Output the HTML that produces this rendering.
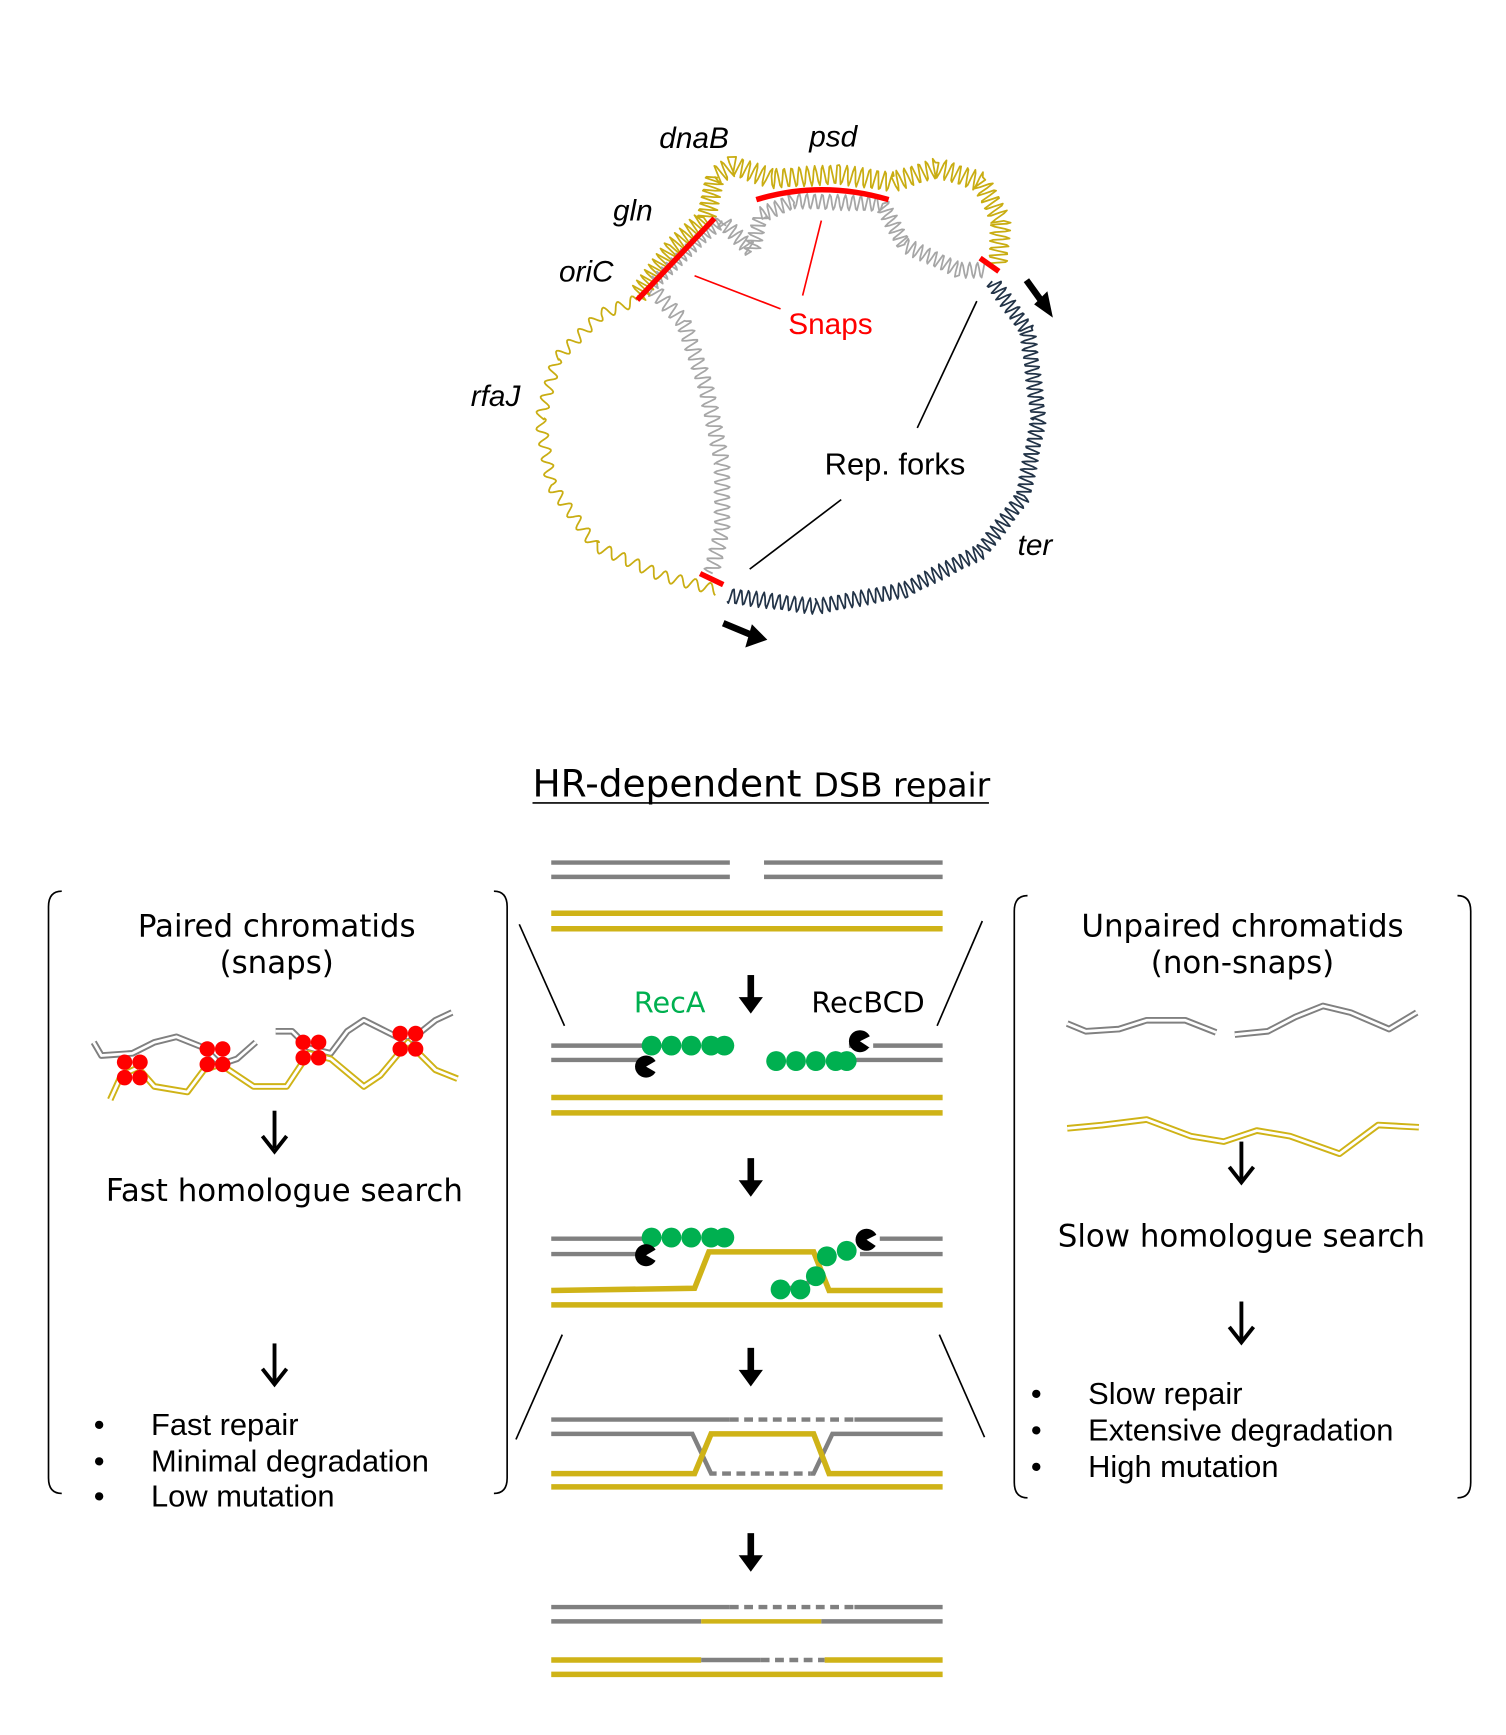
<!DOCTYPE html>
<html><head><meta charset="utf-8"><style>
html,body{margin:0;padding:0;background:#fff}
svg{display:block}
text{font-family:"Liberation Sans",sans-serif}
.c{font-family:"DejaVu Sans","Liberation Sans",sans-serif}
</style></head><body>
<svg id="s" width="1506" height="1735" viewBox="0 0 1366 1573" preserveAspectRatio="none" xmlns="http://www.w3.org/2000/svg">
<g id="chrom"></g>
<g font-size="27" font-style="italic">
<text x="598" y="134">dnaB</text>
<text x="734" y="133">psd</text>
<text x="556" y="200">gln</text>
<text x="507" y="255">oriC</text>
<text x="427" y="368">rfaJ</text>
<text x="923" y="503">ter</text>
</g>
<g>
<line x1="630" y1="250" x2="708" y2="280" stroke="#f00" stroke-width="1.5"/>
<line x1="745" y1="200" x2="728" y2="268" stroke="#f00" stroke-width="1.5"/>
<text x="715" y="303" font-size="27" fill="#f00">Snaps</text>
</g>
<g>
<line x1="886" y1="273" x2="832" y2="388" stroke="#000" stroke-width="1.5"/>
<line x1="763" y1="453" x2="680" y2="516" stroke="#000" stroke-width="1.5"/>
<text x="748" y="430" font-size="28">Rep. forks</text>
<line x1="931" y1="254" x2="944" y2="272" stroke="#000" stroke-width="6"/>
<polygon points="955,288 938,276 950,264" fill="#000"/>
<line x1="656" y1="565" x2="680" y2="575" stroke="#000" stroke-width="6"/>
<polygon points="696,580 676,587 682,566" fill="#000"/>
</g>

<text x="483" y="722" font-size="34" class="c">HR-dependent <tspan font-size="30">DSB repair</tspan></text>
<line x1="483" y1="728" x2="897" y2="728" stroke="#000" stroke-width="1.5"/>

<g>
<g>
<line x1="500" y1="782" x2="662" y2="782" stroke="#808080" stroke-width="4"/>
<line x1="500" y1="795" x2="662" y2="795" stroke="#808080" stroke-width="4"/>
<line x1="693" y1="782" x2="855" y2="782" stroke="#808080" stroke-width="4"/>
<line x1="693" y1="795" x2="855" y2="795" stroke="#808080" stroke-width="4"/>
<line x1="500" y1="828" x2="855" y2="828" stroke="#cfb317" stroke-width="5"/>
<line x1="500" y1="842" x2="855" y2="842" stroke="#cfb317" stroke-width="5"/>
</g>
<g>
<text x="575" y="918" font-size="26" fill="#00b050" class="c">RecA</text>
<text x="736" y="918" font-size="26" class="c">RecBCD</text>
<line x1="500" y1="948" x2="600" y2="948" stroke="#808080" stroke-width="4"/>
<line x1="500" y1="961" x2="585" y2="961" stroke="#808080" stroke-width="4"/>
<line x1="770" y1="948" x2="855" y2="948" stroke="#808080" stroke-width="4"/>
<line x1="760" y1="961" x2="855" y2="961" stroke="#808080" stroke-width="4"/>
<g fill="#00b050"><circle cx="591" cy="948" r="9"/><circle cx="609" cy="948" r="9"/><circle cx="627" cy="948" r="9"/><circle cx="645" cy="948" r="9"/><circle cx="657" cy="948" r="9"/>
<circle cx="704" cy="962" r="9"/><circle cx="722" cy="962" r="9"/><circle cx="740" cy="962" r="9"/><circle cx="758" cy="962" r="9"/><circle cx="768" cy="962" r="9"/></g>
<circle cx="586" cy="967" r="10" fill="#000"/><path d="M586,967 L598,960 L598,974 Z" fill="#fff"/>
<circle cx="780" cy="944" r="10" fill="#000"/><path d="M780,944 L792,938 L792,952 Z" fill="#fff"/>
<line x1="500" y1="995" x2="855" y2="995" stroke="#cfb317" stroke-width="5"/>
<line x1="500" y1="1009" x2="855" y2="1009" stroke="#cfb317" stroke-width="5"/>
</g>
<g>
<line x1="500" y1="1123" x2="590" y2="1123" stroke="#808080" stroke-width="4"/>
<line x1="500" y1="1137" x2="585" y2="1137" stroke="#808080" stroke-width="4"/>
<line x1="790" y1="1123" x2="855" y2="1123" stroke="#808080" stroke-width="4"/>
<line x1="780" y1="1137" x2="855" y2="1137" stroke="#808080" stroke-width="4"/>
<polyline points="500,1170 630,1168 643,1135 738,1135 752,1170 855,1170" fill="none" stroke="#cfb317" stroke-width="5"/>
<line x1="500" y1="1183" x2="855" y2="1183" stroke="#cfb317" stroke-width="5"/>
<line x1="710" y1="1170" x2="742" y2="1160" stroke="#808080" stroke-width="4"/>
<g fill="#00b050"><circle cx="591" cy="1122" r="9"/><circle cx="609" cy="1122" r="9"/><circle cx="627" cy="1122" r="9"/><circle cx="645" cy="1122" r="9"/><circle cx="657" cy="1122" r="9"/>
<circle cx="750" cy="1139" r="9"/><circle cx="768" cy="1134" r="9"/><circle cx="740" cy="1157" r="9"/><circle cx="726" cy="1169" r="9"/><circle cx="708" cy="1169" r="9"/></g>
<circle cx="586" cy="1138" r="10" fill="#000"/><path d="M586,1138 L598,1131 L598,1145 Z" fill="#fff"/>
<circle cx="786" cy="1124" r="10" fill="#000"/><path d="M786,1124 L798,1118 L798,1132 Z" fill="#fff"/>
</g>
<g>
<line x1="500" y1="1287" x2="662" y2="1287" stroke="#808080" stroke-width="4"/>
<line x1="662" y1="1287" x2="775" y2="1287" stroke="#808080" stroke-width="4" stroke-dasharray="8,5"/>
<line x1="775" y1="1287" x2="855" y2="1287" stroke="#808080" stroke-width="4"/>
<polyline points="500,1300 628,1300 645,1336 738,1336 755,1300 855,1300" fill="none" stroke="#808080" stroke-width="4"/>
<line x1="650" y1="1336" x2="735" y2="1336" stroke="#fff" stroke-width="5"/>
<line x1="655" y1="1336" x2="735" y2="1336" stroke="#808080" stroke-width="4" stroke-dasharray="8,5"/>
<polyline points="500,1336 630,1336 645,1300 738,1300 752,1336 855,1336" fill="none" stroke="#cfb317" stroke-width="5"/>
<line x1="500" y1="1348" x2="855" y2="1348" stroke="#cfb317" stroke-width="5"/>
</g>
<g>
<line x1="500" y1="1457" x2="662" y2="1457" stroke="#808080" stroke-width="4"/>
<line x1="662" y1="1457" x2="775" y2="1457" stroke="#808080" stroke-width="4" stroke-dasharray="8,5"/>
<line x1="775" y1="1457" x2="855" y2="1457" stroke="#808080" stroke-width="4"/>
<line x1="500" y1="1470" x2="636" y2="1470" stroke="#808080" stroke-width="4"/>
<line x1="636" y1="1470" x2="745" y2="1470" stroke="#cfb317" stroke-width="4"/>
<line x1="745" y1="1470" x2="855" y2="1470" stroke="#808080" stroke-width="4"/>
<line x1="500" y1="1505" x2="636" y2="1505" stroke="#cfb317" stroke-width="5"/>
<line x1="636" y1="1505" x2="690" y2="1505" stroke="#808080" stroke-width="4"/>
<line x1="690" y1="1505" x2="748" y2="1505" stroke="#808080" stroke-width="4" stroke-dasharray="8,5"/>
<line x1="748" y1="1505" x2="855" y2="1505" stroke="#cfb317" stroke-width="5"/>
<line x1="500" y1="1518" x2="855" y2="1518" stroke="#cfb317" stroke-width="5"/>
</g>
</g>
<g id="arrows"></g>

<g stroke="#000" stroke-width="1.5">
<line x1="471" y1="838" x2="512" y2="930"/>
<line x1="891" y1="835" x2="850" y2="930"/>
<line x1="510" y1="1210" x2="468" y2="1305"/>
<line x1="852" y1="1210" x2="893" y2="1303"/>
</g>

<g>
<path d="M56,808 Q44,808 44,822 L44,1340 Q44,1354 56,1354" fill="none" stroke="#000" stroke-width="1.5"/>
<path d="M448,808 Q460,808 460,822 L460,1340 Q460,1354 448,1354" fill="none" stroke="#000" stroke-width="1.5"/>
<text x="251" y="849" font-size="28" text-anchor="middle" class="c">Paired chromatids</text>
<text x="251" y="882" font-size="28" text-anchor="middle" class="c">(snaps)</text>
<g id="paired"></g>
<text x="258" y="1089" font-size="28" text-anchor="middle" class="c">Fast homologue search</text>
<g font-size="28" class="c">
<text x="85" y="1301">•</text><text x="137" y="1301">Fast repair</text>
<text x="85" y="1334">•</text><text x="137" y="1334">Minimal degradation</text>
<text x="85" y="1366">•</text><text x="137" y="1366">Low mutation</text>
</g>
</g>
<g>
<path d="M932,812 Q920,812 920,826 L920,1344 Q920,1358 932,1358" fill="none" stroke="#000" stroke-width="1.5"/>
<path d="M1322,812 Q1334,812 1334,826 L1334,1344 Q1334,1358 1322,1358" fill="none" stroke="#000" stroke-width="1.5"/>
<text x="1127" y="849" font-size="28" text-anchor="middle" class="c">Unpaired chromatids</text>
<text x="1127" y="882" font-size="28" text-anchor="middle" class="c">(non-snaps)</text>
<g id="unpaired"></g>
<text x="1126" y="1130" font-size="28" text-anchor="middle" class="c">Slow homologue search</text>
<g font-size="28" class="c">
<text x="935" y="1273">•</text><text x="987" y="1273">Slow repair</text>
<text x="935" y="1306">•</text><text x="987" y="1306">Extensive degradation</text>
<text x="935" y="1339">•</text><text x="987" y="1339">High mutation</text>
</g>
</g>
</svg>
<script>
const NS='http://www.w3.org/2000/svg';
function mk(parent,tag,attrs){const e=document.createElementNS(NS,tag);for(const k in attrs)e.setAttribute(k,attrs[k]);parent.appendChild(e);return e;}
function wiggle(pts,amp,wl){
  let segs=[];
  for(let i=1;i<pts.length;i++){const dx=pts[i][0]-pts[i-1][0],dy=pts[i][1]-pts[i-1][1];const l=Math.hypot(dx,dy);segs.push([pts[i-1],dx,dy,l]);}
  let d='',s=0;
  for(const [p,dx,dy,l] of segs){const nx=-dy/l,ny=dx/l;for(let t=0;t<l;t+=1.2){const a=amp*Math.sin(2*Math.PI*(s+t)/wl);const x=p[0]+dx*t/l+nx*a,y=p[1]+dy*t/l+ny*a;d+=(d?'L':'M')+x.toFixed(1)+','+y.toFixed(1);}s+=l;}
  return d;
}
const ch=document.getElementById('chrom');
function wl(pts,amp,w,col,name){
  const p=mk(ch,'path',{d:wiggle(pts,amp,w),fill:'none',stroke:col,'stroke-width':1.6,'stroke-linejoin':'round'});
  
  
}
const Y='#c9ad12',G='#a6a6a6',N='#223347';
wl([[578,272],[545,285],[505,325],[490,380],[500,440],[540,495],[600,522],[650,535]],5,14,Y,'yellow-strand-left');
wl([[592,262],[620,292],[640,350],[655,420],[655,480],[645,520]],7,9,G,'gray-strand-left');
wl([[578,268],[610,225],[640,198],[648,160]],9,6,Y,'yellow-strand-oric');
wl([[592,258],[640,212],[655,200]],6,6,G,'gray-strand-oric');
wl([[648,160],[665,150],[700,162],[760,158],[810,165],[850,152],[890,165],[908,200],[905,240]],9,7,Y,'yellow-strand-top');
wl([[655,200],[682,228],[690,195],[720,182],[800,185],[820,222],[870,245],[895,245]],7,7,G,'gray-strand-top');
wl([[900,255],[932,300],[942,380],[928,450],[890,500],[820,535],[740,550],[660,540]],7,7,N,'navy-strand-right');
function red(d,name){const p=mk(ch,'path',{d:d,fill:'none',stroke:'#f00','stroke-width':5});}
red('M578,272 L648,198','snap-oric-gln');
red('M686,181 Q745,163 806,181','snap-psd');
red('M889,234 L906,246','snap-fork-right');
red('M635,520 L656,530','snap-fork-left');
const ar=document.getElementById('arrows');
[[681,884,1],[681,1050,1],[681,1222,1],[681,1390,1],[249,1007,0],[249,1218,0],[1126,1035,0],[1126,1180,0]].forEach(a=>{
  const x=a[0],y=a[1];
  const g=mk(ar,'g',{});
  
  
  if(a[2]){
    mk(g,'line',{x1:x,y1:y,x2:x,y2:y+22,stroke:'#000','stroke-width':6});
    mk(g,'polygon',{points:`${x-11},${y+20} ${x+11},${y+20} ${x},${y+35}`,fill:'#000'});
  } else {
    mk(g,'line',{x1:x,y1:y,x2:x,y2:y+34,stroke:'#000','stroke-width':3.5});
    mk(g,'path',{d:`M${x-11},${y+23} L${x},${y+37} L${x+11},${y+23}`,fill:'none',stroke:'#000','stroke-width':3.5});
  }
});
function dbl(parent,pts,col){
  const d='M'+pts.map(p=>p.join(',')).join(' L');
  mk(parent,'path',{d:d,fill:'none',stroke:col,'stroke-width':6,'stroke-linejoin':'round'});
  mk(parent,'path',{d:d,fill:'none',stroke:'#fff','stroke-width':2.5,'stroke-linejoin':'round'});
}
const pa=document.getElementById('paired');
dbl(pa,[[85,945],[92,957],[120,955],[140,945],[160,940],[185,950],[200,965],[215,960],[232,945]],'#808080');
dbl(pa,[[250,935],[265,935],[280,950],[300,955],[315,935],[330,925],[350,935],[370,945],[395,925],[410,918]],'#808080');
dbl(pa,[[100,997],[110,975],[125,968],[140,985],[170,990],[185,970],[200,965],[230,985],[260,985],[280,955],[300,960],[330,985],[345,975],[370,945],[395,970],[415,978]],'#cfb317');
[[120,970],[195,958],[282,952],[370,944]].forEach(c=>{[[-7,-7],[7,-7],[-7,7],[7,7]].forEach(o=>{const e=mk(pa,'circle',{cx:c[0]+o[0],cy:c[1]+o[1],r:7,fill:'#f00'});});});
const up=document.getElementById('unpaired');
dbl(up,[[968,928],[985,935],[1015,933],[1040,925],[1075,925],[1103,936]],'#808080');
dbl(up,[[1120,938],[1150,935],[1175,922],[1200,912],[1225,918],[1260,933],[1285,918]],'#808080');
dbl(up,[[968,1023],[1000,1020],[1040,1015],[1080,1030],[1110,1035],[1140,1025],[1170,1030],[1215,1046],[1250,1020],[1287,1022]],'#cfb317');
</script>
</body></html>
